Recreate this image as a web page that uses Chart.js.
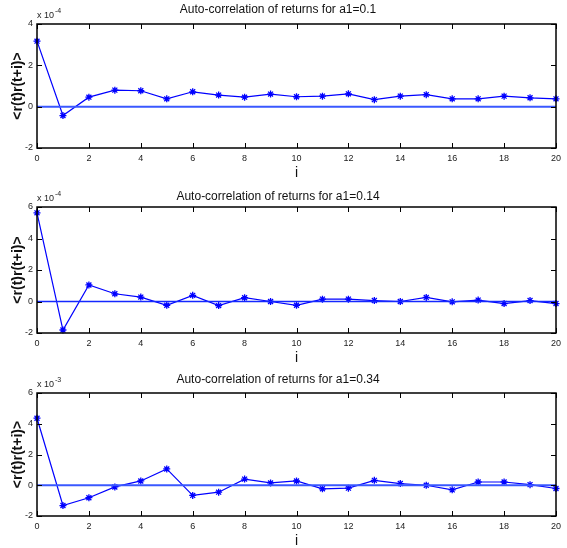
<!DOCTYPE html>
<html>
<head>
<meta charset="utf-8">
<script src="https://cdn.jsdelivr.net/npm/chart.js@4.4.1/dist/chart.umd.min.js"></script>
<style>
  body { margin: 0; background: #fff; width: 567px; height: 548px; position: relative; overflow: hidden; }
  canvas { position: absolute; left: 0; }
</style>
</head>
<body>
<canvas id="acf1" width="567" height="183" style="top:0px"></canvas>
<canvas id="acf2" width="567" height="183" style="top:183px"></canvas>
<canvas id="acf3" width="567" height="182" style="top:366px"></canvas>
<script>
// lag i
const lags = [0, 1, 2, 3, 4, 5, 6, 7, 8, 9, 10, 11, 12, 13, 14, 15, 16, 17, 18, 19, 20];

// <r(t)r(t+i)>, in units of the axis exponent
const acfA1_010 = [3.17, -0.43, 0.46, 0.80, 0.77, 0.38, 0.72, 0.56, 0.46, 0.61, 0.48,
                   0.51, 0.62, 0.34, 0.51, 0.58, 0.38, 0.38, 0.51, 0.43, 0.38];
const acfA1_014 = [5.63, -1.81, 1.05, 0.49, 0.28, -0.24, 0.39, -0.26, 0.24, 0.00, -0.24,
                   0.15, 0.15, 0.06, 0.00, 0.26, -0.02, 0.09, -0.13, 0.06, -0.13];
const acfA1_034 = [4.36, -1.32, -0.81, -0.11, 0.28, 1.06, -0.66, -0.45, 0.40, 0.15, 0.28,
                   -0.23, -0.19, 0.32, 0.11, 0.00, -0.30, 0.21, 0.21, 0.04, -0.21];

const zeroLine = lags.map(() => 0);

// tick labels
const xTicks = [0, 2, 4, 6, 8, 10, 12, 14, 16, 18, 20];
const yTicksA = [-2, 0, 2, 4];
const yTicksB = [-2, 0, 2, 4, 6];

const titles = [
  "Auto-correlation of returns for a1=0.1",
  "Auto-correlation of returns for a1=0.14",
  "Auto-correlation of returns for a1=0.34"
];
const exponents = ["-4", "-4", "-3"];

const FONT = "'Liberation Sans', Arial, sans-serif";

// box + inward tick marks + "x 10^n" label, matlab style
const matlabFrame = {
  id: "matlabFrame",
  afterDatasetsDraw(chart, args, opts) {
    const { ctx, chartArea: a, scales: { x, y } } = chart;
    ctx.save();
    ctx.strokeStyle = "#000";
    ctx.lineWidth = 1;
    ctx.beginPath();
    x.ticks.forEach(t => {
      const px = Math.round(x.getPixelForValue(t.value)) + 0.5;
      ctx.moveTo(px, a.bottom); ctx.lineTo(px, a.bottom - 5);
      ctx.moveTo(px, a.top); ctx.lineTo(px, a.top + 5);
    });
    y.ticks.forEach(t => {
      const py = Math.round(y.getPixelForValue(t.value)) + 0.5;
      ctx.moveTo(a.left, py); ctx.lineTo(a.left + 5, py);
      ctx.moveTo(a.right, py); ctx.lineTo(a.right - 5, py);
    });
    ctx.stroke();
    ctx.lineWidth = 1.5;
    ctx.strokeRect(a.left, a.top, a.right - a.left, a.bottom - a.top);

    ctx.fillStyle = "#222";
    ctx.font = "9px " + FONT;
    ctx.textBaseline = "alphabetic";
    ctx.fillText("x 10", a.left, a.top - 6);
    const w = ctx.measureText("x 10").width;
    ctx.font = "7px " + FONT;
    ctx.fillText(opts.exponent, a.left + w + 1, a.top - 11);
    ctx.restore();
  }
};

function makePanel(id, title, exponent, values, yTicks, p) {
  const yMin = yTicks[0];
  const yMax = yTicks[yTicks.length - 1];

  return new Chart(document.getElementById(id), {
    type: "line",
    data: {
      datasets: [
        {
          data: lags.map((v, i) => ({ x: v, y: zeroLine[i] })),
          borderColor: p.zeroColor,
          borderWidth: p.zeroWidth,
          pointRadius: 0
        },
        {
          data: lags.map((v, i) => ({ x: v, y: values[i] })),
          borderColor: "#0000ff",
          borderWidth: 1.2,
          pointStyle: "star",
          pointRadius: 3.5,
          pointBorderWidth: 1.3,
          pointBorderColor: "#0000ff",
          pointBackgroundColor: "#0000ff",
          tension: 0,
          clip: false
        }
      ]
    },
    options: {
      responsive: false,
      animation: false,
      layout: { padding: { left: 0, right: 11, top: 0, bottom: 0 } },
      plugins: {
        legend: { display: false },
        tooltip: { enabled: false },
        title: {
          display: true,
          text: title,
          color: "#111",
          font: { family: FONT, size: 12, weight: "normal", lineHeight: 1.2 },
          padding: { top: p.titleY - 7.2, bottom: p.areaTop - p.titleY - 7.2 }
        },
        matlabFrame: { exponent: exponent }
      },
      scales: {
        x: {
          type: "linear",
          min: 0,
          max: 20,
          afterBuildTicks: s => { s.ticks = xTicks.map(v => ({ value: v })); },
          afterFit: s => { s.height = p.height - p.areaBottom; },
          grid: { display: false, drawTicks: false },
          border: { display: false },
          ticks: { color: "#222", padding: 5, maxRotation: 0, font: { family: FONT, size: 9 } },
          title: {
            display: true,
            text: "i",
            color: "#111",
            font: { family: FONT, size: 14, lineHeight: 1 },
            padding: { top: 0, bottom: p.xTitlePad }
          }
        },
        y: {
          min: yMin,
          max: yMax,
          afterBuildTicks: s => { s.ticks = yTicks.map(v => ({ value: v })); },
          afterFit: s => { s.width = 37; },
          grid: { display: false, drawTicks: false },
          border: { display: false },
          ticks: { color: "#222", padding: 4, font: { family: FONT, size: 9 } },
          title: {
            display: true,
            text: "<r(t)r(t+i)>",
            color: "#111",
            font: { family: FONT, size: 14, weight: "bold", lineHeight: 1 },
            padding: { top: 11, bottom: 0 }
          }
        }
      }
    },
    plugins: [matlabFrame]
  });
}

makePanel("acf1", titles[0], exponents[0], acfA1_010, yTicksA,
  { height: 183, areaTop: 24, areaBottom: 148, titleY: 10, xTitlePad: 3, zeroColor: "#3a58ff", zeroWidth: 2 });
makePanel("acf2", titles[1], exponents[1], acfA1_014, yTicksB,
  { height: 183, areaTop: 24, areaBottom: 150, titleY: 13.5, xTitlePad: 1, zeroColor: "#1428ff", zeroWidth: 1.5 });
makePanel("acf3", titles[2], exponents[2], acfA1_034, yTicksB,
  { height: 182, areaTop: 27, areaBottom: 150, titleY: 14, xTitlePad: 0, zeroColor: "#3a58ff", zeroWidth: 2 });
</script>
</body>
</html>
